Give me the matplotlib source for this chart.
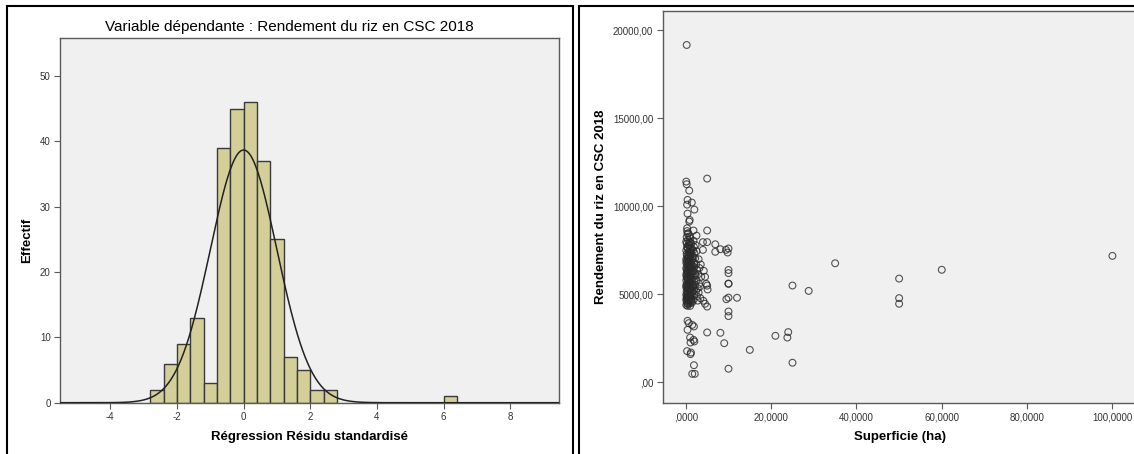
import numpy as np
import matplotlib
matplotlib.use("Agg")
import matplotlib.pyplot as plt
from matplotlib.patches import Rectangle

plt.rcParams['font.family'] = ['Liberation Sans', 'DejaVu Sans']
plt.rcParams['axes.unicode_minus'] = False

# ---------------- histogram data (standardised residuals) ----------------
bin_left = [-2.8, -2.4, -2.0, -1.6, -1.2, -0.8, -0.4, 0.0, 0.4, 0.8, 1.2, 1.6, 2.0, 2.4, 6.0]
bin_count = [2, 6, 9, 13, 3, 39, 45, 46, 37, 25, 7, 5, 2, 2, 1]
bin_width = 0.4
resid_mean = 0.0
resid_sd = 0.998

hist_xticks = [-4, -2, 0, 2, 4, 6, 8]
hist_yticks = [0, 10, 20, 30, 40, 50]

# ---------------- scatter data ----------------
# isolated points, read one by one
sup_sparse = [0.2, 5.0, 0.1, 0.2, 0.8, 0.4, 1.4, 0.3, 2.0, 0.4, 0.9, 0.8, 1.8, 5.0, 0.3,
              0.6, 1.0, 2.5, 4.0, 5.0, 6.9, 8.1, 6.9, 4.0, 9.4, 9.8, 10.0, 35.0, 60.0, 100.0,
              50.0, 50.0, 50.0, 25.0, 28.8, 10.0, 10.0, 10.0, 10.0, 12.0, 9.5, 10.0, 10.0, 10.0,
              5.0, 8.1, 9.0, 15.0, 21.0, 24.0, 23.8, 25.0, 10.0, 1.9, 1.5, 2.1, 0.4, 0.7, 0.4,
              1.5, 1.9, 1.0, 1.8, 2.0, 1.1, 0.3, 1.2, 1.1, 4.2, 4.5, 4.8, 5.0, 5.1, 3.4, 4.1,
              4.5, 5.0]
rend_sparse = [19170, 11580, 11410, 11260, 10900, 10370, 10220, 10100, 9820, 9590, 9230, 9140,
               8630, 8630, 8760, 8480, 8190, 8340, 7970, 7970, 7850, 7570, 7420, 7530, 7530,
               7380, 7610, 6770, 6400, 7190, 5900, 4790, 4470, 5505, 5200, 6390, 6210, 5600,
               5620, 4810, 4730, 4820, 4030, 3770, 2840, 2820, 2230, 1850, 2650, 2860, 2550,
               1120, 780, 980, 490, 490, 3500, 3370, 2990, 3270, 3180, 2550, 2420, 2330, 2270,
               1780, 1700, 1610, 6340, 6000, 5600, 5500, 5280, 4790, 4640, 4470, 4310]

# dense cluster near 0-3 ha (estimated)
sup_dense = [0.1, 0.2, 0.3, 0.1, 0.2, 0.3, 0.1, 0.2, 0.3, 0.1,
             0.2, 0.3, 0.1, 0.2, 0.3, 0.1, 0.2, 0.3, 0.1, 0.2,
             0.3, 0.1, 0.2, 0.3, 0.1, 0.2, 0.3, 0.1, 0.5, 0.6,
             0.5, 0.7, 0.6, 0.5, 0.7, 0.6, 0.5, 0.7, 0.6, 0.5,
             0.7, 0.6, 0.5, 0.7, 0.6, 0.5, 0.7, 0.6, 0.5, 0.7,
             0.6, 0.5, 0.7, 0.6, 0.5, 0.9, 1.0, 0.9, 1.1, 1.0,
             0.9, 1.1, 1.0, 0.9, 1.1, 1.0, 0.9, 1.1, 1.0, 0.9,
             1.1, 1.0, 0.9, 1.1, 1.0, 0.9, 1.1, 1.0, 0.9, 1.1,
             1.0, 1.3, 1.4, 1.3, 1.5, 1.4, 1.3, 1.5, 1.4, 1.3,
             1.5, 1.4, 1.3, 1.5, 1.4, 1.3, 1.5, 1.8, 1.9, 2.0,
             1.8, 1.9, 2.0, 1.8, 1.9, 2.0, 1.8, 1.9, 2.0, 1.8,
             2.3, 2.5, 2.2, 2.4, 2.6, 2.3, 2.5, 2.2, 2.4, 2.6,
             3.0, 3.2, 2.9, 3.1, 2.8, 3.0, 2.8, 3.5, 3.6, 3.3,
             0.3, 0.4, 0.2, 0.4, 0.4, 0.4, 0.4, 0.4, 0.4, 0.4,
             0.8, 0.8, 0.8, 0.8, 0.8, 1.2, 1.2, 1.2, 1.2, 1.2,
             0.1, 0.2, 0.1, 0.2, 0.6, 0.6, 1.6, 1.6, 1.7, 2.1]
rend_dense = [8000, 7900, 7700, 7500, 7300, 7200, 7000, 6900, 6700, 6500,
              6400, 6300, 6100, 6000, 5900, 5800, 5600, 5500, 5400, 5200,
              5100, 5000, 4900, 4800, 4700, 4600, 4500, 4400, 8100, 7800,
              7600, 7450, 7250, 7100, 6950, 6800, 6650, 6550, 6350, 6250,
              6100, 5950, 5850, 5700, 5550, 5450, 5300, 5150, 5050, 4950,
              4850, 4750, 4650, 4550, 4450, 8300, 8000, 7800, 7650, 7500,
              7350, 7200, 7050, 6900, 6750, 6600, 6450, 6300, 6150, 6000,
              5850, 5700, 5550, 5400, 5250, 5100, 4950, 4800, 4650, 4500,
              4350, 7900, 7600, 7400, 7150, 6950, 6700, 6500, 6250, 6050,
              5800, 5600, 5350, 5150, 4950, 4750, 4550, 8050, 7700, 7350,
              7100, 6800, 6550, 6300, 6000, 5750, 5500, 5250, 5000, 4700,
              7800, 7450, 7050, 6700, 6400, 6100, 5800, 5550, 5200, 4900,
              7000, 6500, 6150, 5600, 5350, 5100, 4650, 6700, 6000, 5450,
              8600, 8450, 8250, 7650, 7050, 6550, 5950, 5350, 4850, 4350,
              7950, 7150, 6450, 5650, 4900, 7300, 6500, 5900, 5100, 4600,
              6800, 6200, 5500, 4800, 6900, 5300, 6600, 5400, 7500, 6200]

sc_xticks = [0, 20, 40, 60, 80, 100]
sc_xlabels = [',0000', '20,0000', '40,0000', '60,0000', '80,0000', '100,0000']
sc_yticks = [0, 5000, 10000, 15000, 20000]
sc_ylabels = [',00', '5000,00', '10000,00', '15000,00', '20000,00']

# ---------------- figure ----------------
W, H = 1134, 454
fig = plt.figure(figsize=(W / 100, H / 100), dpi=100)
fig.patch.set_facecolor('white')

# panel frames (two SPSS charts pasted side by side)
for x0, w in ((7.3, 565.6), (579, 600)):
    fig.patches.append(Rectangle((x0 / W, -0.05), w / W, (H - 6) / H + 0.05,
                                 transform=fig.transFigure, fill=False,
                                 edgecolor='black', linewidth=1.5, clip_on=False))

tick_col = '#333333'
spine_col = '#5a5a5a'


def style_axes(ax):
    ax.set_facecolor('#f0f0f0')
    for s in ax.spines.values():
        s.set_color(spine_col)
        s.set_linewidth(1.0)
    ax.tick_params(direction='out', length=4.5, width=0.8, color=spine_col,
                   labelsize=7, labelcolor=tick_col, pad=2.5)


# left: histogram
l1, t1, r1, b1 = 60.3, 38.3, 558.9, 402.7
ax1 = fig.add_axes([l1 / W, 1 - b1 / H, (r1 - l1) / W, (b1 - t1) / H])
style_axes(ax1)
ax1.bar(bin_left, bin_count, width=bin_width, align='edge', color='#d4cf99',
        edgecolor='#3a3a3a', linewidth=1.0, zorder=2)
n_total = sum(bin_count)
xc = np.linspace(-5.5, 9.46, 400)
yc = n_total * bin_width / (resid_sd * np.sqrt(2 * np.pi)) * np.exp(-0.5 * ((xc - resid_mean) / resid_sd) ** 2)
ax1.plot(xc, yc, color='#222222', linewidth=1.1, zorder=3)
ax1.set_xlim(-5.5, 9.46)
ax1.set_ylim(0, 55.8)
ax1.set_xticks(hist_xticks)
ax1.set_yticks(hist_yticks)
ax1.set_title('Variable dépendante : Rendement du riz en CSC 2018', fontsize=11,
              color='black', x=(289 - l1) / (r1 - l1), pad=5)
ax1.set_xlabel('Régression Résidu standardisé', fontsize=9.5, fontweight='bold')
ax1.set_ylabel('Effectif', fontsize=9.5, fontweight='bold')
ax1.xaxis.set_label_coords(0.5, -0.077)
ax1.yaxis.set_label_coords(-0.054, 0.446)

# right: scatter
sup = sup_sparse + sup_dense
rend = rend_sparse + rend_dense
l2, t2, b2 = 662.8, 11.0, 402.7
x_hi = 105.6
r2 = 685.8 + x_hi * (1112.4 - 685.8) / 100
ax2 = fig.add_axes([l2 / W, 1 - b2 / H, (r2 - l2) / W, (b2 - t2) / H])
style_axes(ax2)
ax2.scatter(sup, rend, s=24, facecolors='none', edgecolors='#2a2a2a', linewidths=0.8,
            alpha=0.8, zorder=3)
ax2.set_xlim(-5.4, x_hi)
ax2.set_ylim(-1150, 21100)
ax2.set_xticks(sc_xticks)
ax2.set_xticklabels(sc_xlabels)
ax2.set_yticks(sc_yticks)
ax2.set_yticklabels(sc_ylabels)
ax2.set_xlabel('Superficie (ha)', fontsize=9.5, fontweight='bold')
ax2.set_ylabel('Rendement du riz en CSC 2018', fontsize=9.5, fontweight='bold')
ax2.xaxis.set_label_coords((900 - l2) / (r2 - l2), -0.071)
ax2.yaxis.set_label_coords(-0.117, 0.5)

fig.savefig('out.png', dpi=100)
